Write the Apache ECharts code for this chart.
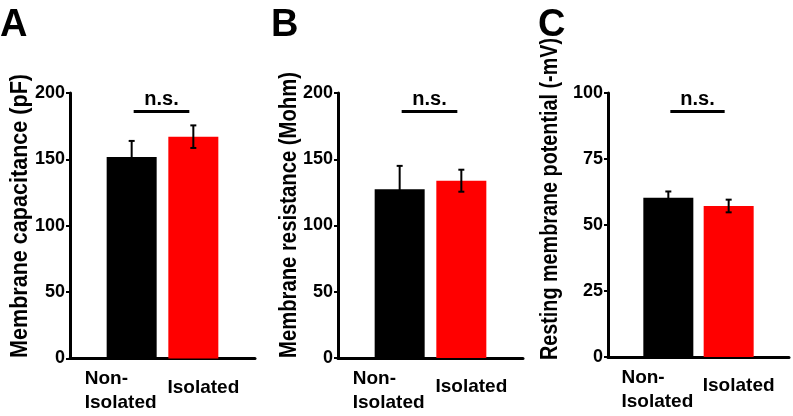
<!DOCTYPE html>
<html>
<head>
<meta charset="utf-8">
<script src="https://cdn.jsdelivr.net/npm/echarts@6/dist/echarts.min.js"></script>
<style>
  html, body { margin: 0; padding: 0; background: #fff; }
  #main { width: 793px; height: 416px; }
</style>
</head>
<body>
<div id="main"></div>
<script>
// groups and where they sit on the x axis
const groups = ['Non-\nIsolated', 'Isolated']
const xPos = [1, 2]
const barColors = ['#000000', '#ff0000']

// A: membrane capacitance (pF)
const capMean = [151.7, 167.1]
const capErr = [12.2, 8.5]
// B: membrane resistance (Mohm)
const resMean = [127.3, 133.8]
const resErr = [17.7, 8.3]
// C: resting membrane potential (-mV)
const vmMean = [60.3, 57.2]
const vmErr = [2.4, 2.4]

// height of the n.s. bracket in each panel
const nsLevel = [186, 186, 93]

const FONT = '"Liberation Sans", Arial, Helvetica, sans-serif'
const NAME_FONT = 'bold 24px ' + FONT

// axis titles are a bit condensed in the original, squeeze them to the same length
const measure = document.createElement('canvas').getContext('2d')
function textWidth(s, font) {
    measure.font = font
    return measure.measureText(s).width
}

const panels = [
    { letter: 'A', name: 'Membrane capacitance (pF)', mean: capMean, err: capErr, max: 200, interval: 50,
      grid: { left: 70, top: 93, width: 185, height: 265.5 }, letterX: 0, nameX: 20, nameY: 216, nameLen: 284 },
    { letter: 'B', name: 'Membrane resistance (Mohm)', mean: resMean, err: resErr, max: 200, interval: 50,
      grid: { left: 338, top: 93, width: 185, height: 265 }, letterX: 271, nameX: 289, nameY: 215, nameLen: 286 },
    { letter: 'C', name: 'Resting membrane potential (-mV)', mean: vmMean, err: vmErr, max: 100, interval: 25,
      grid: { left: 608, top: 93, width: 181, height: 264 }, letterX: 538, nameX: 550, nameY: 199, nameLen: 322 }
]

function xLabel(v) {
    const i = xPos.indexOf(v)
    if (i < 0) return ''
    const lines = groups[i].split('\n')
    const tag = i === 0 ? 'l' : 'r'
    return lines.map(s => '{' + tag + '|' + s + '}').join('\n')
}

function errorBar(params, api) {
    const x = api.value(0)
    const m = api.value(1)
    const e = api.value(2)
    const top = api.coord([x, m + e])
    const bot = api.coord([x, m - e])
    const st = { stroke: '#000', lineWidth: 2 }
    return {
        type: 'group',
        children: [
            { type: 'line', shape: { x1: top[0], y1: top[1], x2: bot[0], y2: bot[1] }, style: st },
            { type: 'line', shape: { x1: top[0] - 3, y1: top[1], x2: top[0] + 3, y2: top[1] }, style: st },
            { type: 'line', shape: { x1: bot[0] - 3, y1: bot[1], x2: bot[0] + 3, y2: bot[1] }, style: st }
        ]
    }
}

function nsBracket(params, api) {
    const y = api.value(1)
    const a = api.coord([xPos[0], y])
    const b = api.coord([xPos[1], y])
    return {
        type: 'group',
        children: [
            { type: 'line', shape: { x1: a[0] + 2, y1: a[1], x2: b[0] - 4, y2: a[1] },
              style: { stroke: '#000', lineWidth: 3 } },
            { type: 'text', style: {
                text: 'n.s.', x: (a[0] + b[0]) / 2 - 1, y: a[1] - 2,
                font: 'bold 20px ' + FONT, fill: '#000',
                align: 'center', verticalAlign: 'bottom', textAlign: 'center', textVerticalAlign: 'bottom'
            } }
        ]
    }
}

const grids = []
const xAxes = []
const yAxes = []
const series = []
const graphics = []

panels.forEach((p, i) => {
    grids.push(Object.assign({ outerBoundsMode: 'none', containLabel: false }, p.grid))
    xAxes.push({
        type: 'value', gridIndex: i, min: 0, max: 3, interval: 1,
        axisLine: { show: true, onZero: false, lineStyle: { color: '#000', width: 3 } },
        axisTick: { show: false },
        splitLine: { show: false },
        axisLabel: {
            show: true, margin: 8.5, color: '#000', formatter: xLabel,
            showMinLabel: true, showMaxLabel: true, hideOverlap: false,
            rich: {
                l: { fontFamily: FONT, fontWeight: 'bold', fontSize: 19, lineHeight: 24, color: '#000',
                     align: 'left', padding: [0, 22, 0, 0] },
                r: { fontFamily: FONT, fontWeight: 'bold', fontSize: 19, lineHeight: 41, color: '#000',
                     padding: [0, 0, 0, 20] }
            }
        }
    })
    yAxes.push({
        type: 'value', gridIndex: i, min: 0, max: p.max, interval: p.interval,
        axisLine: { show: true, lineStyle: { color: '#000', width: 3 } },
        axisTick: { show: true, length: 4, lineStyle: { color: '#000', width: 2 } },
        splitLine: { show: false },
        axisLabel: { color: '#000', fontFamily: FONT, fontWeight: 'bold', fontSize: 18, margin: 5 }
    })
    series.push({
        type: 'bar', xAxisIndex: i, yAxisIndex: i, barWidth: 50, silent: true,
        data: p.mean.map((m, k) => ({ value: [xPos[k], m], itemStyle: { color: barColors[k] } }))
    })
    series.push({
        type: 'custom', xAxisIndex: i, yAxisIndex: i, silent: true, z: 5,
        renderItem: errorBar,
        data: p.mean.map((m, k) => [xPos[k], m, p.err[k]])
    })
    series.push({
        type: 'custom', xAxisIndex: i, yAxisIndex: i, silent: true, z: 5,
        renderItem: nsBracket,
        data: [[(xPos[0] + xPos[1]) / 2, nsLevel[i]]]
    })
    // panel letter
    graphics.push({
        type: 'text', x: p.letterX, y: 26, silent: true,
        style: { text: p.letter, font: 'bold 38px ' + FONT, fill: '#000',
                 align: 'left', verticalAlign: 'middle', textAlign: 'left', textVerticalAlign: 'middle' }
    })
    // y axis title
    graphics.push({
        type: 'text', x: p.nameX, y: p.nameY, rotation: Math.PI / 2, silent: true,
        scaleX: p.nameLen / textWidth(p.name, NAME_FONT), scaleY: 1,
        style: { text: p.name, font: NAME_FONT, fill: '#000',
                 align: 'center', verticalAlign: 'middle', textAlign: 'center', textVerticalAlign: 'middle' }
    })
})

const chart = echarts.init(document.getElementById('main'))
chart.setOption({
    animation: false,
    backgroundColor: '#fff',
    grid: grids,
    xAxis: xAxes,
    yAxis: yAxes,
    series: series,
    graphic: graphics
})
</script>
</body>
</html>
